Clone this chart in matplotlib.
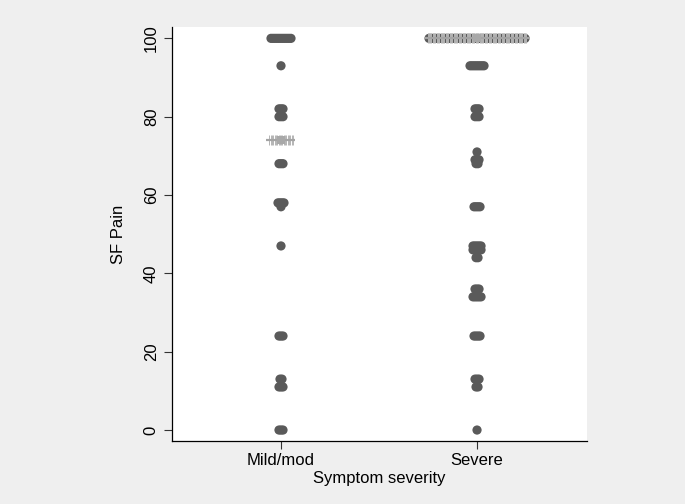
import matplotlib
matplotlib.use("Agg")
import matplotlib.pyplot as plt
import numpy as np

plt.rcParams['font.family'] = ['Liberation Sans', 'DejaVu Sans']

# ---- data ----
categories = ["Mild/mod", "Severe"]
mild_values = [100, 93, 82, 80, 68, 58, 57, 47, 24, 13, 11, 0]
mild_counts = [11, 1, 3, 3, 3, 4, 1, 1, 3, 2, 3, 3]
severe_values = [100, 93, 82, 80, 71, 69, 68, 57, 47, 46, 44, 36, 34, 24, 13, 11, 0]
severe_counts = [49, 8, 3, 3, 1, 3, 2, 4, 5, 5, 2, 3, 5, 4, 3, 2, 1]
medians = [74, 100]
y_ticks = [0, 20, 40, 60, 80, 100]

# ---- figure ----
W, H, DPI = 685, 504, 100
fig = plt.figure(figsize=(W / DPI, H / DPI), dpi=DPI, facecolor='#efefef')
ax = fig.add_axes([172 / W, 1 - 441 / H, (587 - 172) / W, (441 - 27) / H])
ax.set_facecolor('white')
ax.set_xlim(0.444, 2.561)
ax.set_ylim(-2.8, 102.9)

px_per_unit = (587 - 172) / (2.561 - 0.444)
step = 2.0 / px_per_unit  # horizontal stacking step (2 px)

dot_color = '#5a5a5a'
groups = [(mild_values, mild_counts), (severe_values, severe_counts)]
for gi, (vals, cnts) in enumerate(groups):
    xc = gi + 1
    xs, ys = [], []
    for v, n in zip(vals, cnts):
        for i in range(n):
            xs.append(xc + (i - (n - 1) / 2) * step)
            ys.append(v)
    ax.scatter(xs, ys, s=44, color=dot_color, edgecolors='none', zorder=3)

    # median band, as wide as the widest stack
    nmax = max(cnts)
    half = ((nmax - 1) / 2) * step + 4.5 / px_per_unit
    m = medians[gi]
    tick_x = np.arange(xc - half + 3 / px_per_unit, xc + half - 2 / px_per_unit, 1.3 / px_per_unit)
    ax.scatter(tick_x, [m] * len(tick_x), marker='|', s=42, linewidths=0.7,
               color='#b4b4b4', zorder=4)
    ax.hlines(m, xc - half, xc + half, color='#a4a4a4', lw=1.6, zorder=5)
    ax.scatter([xc], [m], marker='s', s=32, color='#a8a8a8', edgecolors='none', zorder=6)

# axes styling
for sp in ['top', 'right']:
    ax.spines[sp].set_visible(False)
for sp in ['left', 'bottom']:
    ax.spines[sp].set_linewidth(0.9)
    ax.spines[sp].set_color('black')

ax.set_xticks([1, 2])
ax.set_xticklabels(categories, fontsize=12)
ax.set_yticks(y_ticks)
ax.set_yticklabels([str(t) for t in y_ticks], fontsize=12, rotation=90, va='center')
ax.tick_params(axis='both', length=5.5, width=0.8, color='#333333')
ax.tick_params(axis='y', pad=4)
ax.tick_params(axis='x', pad=3)

ax.set_ylabel("SF Pain", fontsize=12, labelpad=13)
ax.set_xlabel("Symptom severity", fontsize=12, labelpad=2)

fig.savefig("out.png", dpi=DPI, facecolor=fig.get_facecolor())
